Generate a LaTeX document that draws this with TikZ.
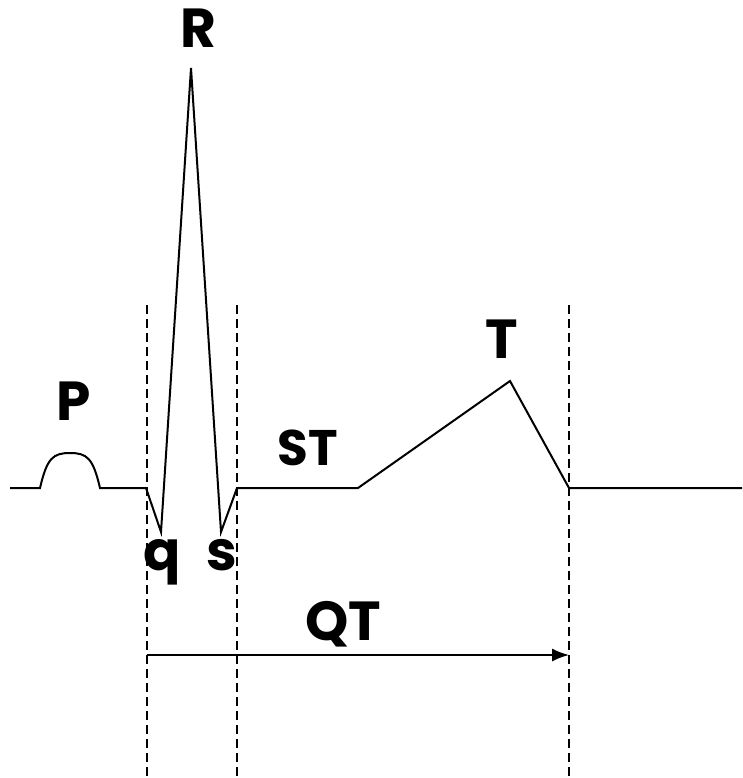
\documentclass[tikz,border=0pt]{standalone}
\usepackage{fontspec}
\setmainfont{Poppins}
\usetikzlibrary{arrows.meta}
\tikzset{
  trace/.style = {line width=2pt, line join=miter},
  guide/.style = {line width=1.6pt, dash pattern=on 9pt off 5pt},
  wave/.style  = {font=\fontsize{55}{55}\selectfont\bfseries, anchor=base, inner sep=0pt}
}
\begin{document}
\begin{tikzpicture}[x=1pt, y=-1pt]
  \useasboundingbox (0,0) rectangle (742,778);

  % Les points du trace
  \coordinate (debut) at (10,488);
  \coordinate (pg) at (40,488);
  \coordinate (pd) at (100,488);
  \coordinate (qrs) at (146,488);
  \coordinate (q) at (161,532);
  \coordinate (r) at (191,68);
  \coordinate (s) at (221,532);
  \coordinate (j) at (237,488);
  \coordinate (st) at (358,488);
  \coordinate (t) at (510,381);
  \coordinate (tfin) at (569,488);
  \coordinate (fin) at (742,488);

  % Le trace
  \draw[trace] (debut) -- (pg)
    .. controls (47,458) and (53,453) .. (70,453)
    .. controls (87,453) and (93,458) .. (pd)
    -- (qrs) -- (q) -- (r) -- (s) -- (j) -- (st) -- (t) -- (tfin) -- (fin);

  % Les pointilles
  \draw[guide] (147,305) -- (147,778);
  \draw[guide] (237,305) -- (237,778);
  \draw[guide] (569,305) -- (569,778);

  % La fleche QT
  \coordinate (qtg) at (147,655);
  \coordinate (qtd) at (569,655);
  \draw[line width=1.6pt, -{Latex[length=17pt, width=13pt]}] (qtg) -- (qtd);

  % Les lettres
  \node[wave] (lr) at (198,48) {R};
  \node[wave] (lp) at (74,420) {P};
  \node[wave] (lt) at (502,358) {T};
  \node[wave, font=\fontsize{50}{50}\selectfont\bfseries] (lst) at (308,465) {ST};
  \node[wave] (lq) at (162,570) {q};
  \node[wave] (ls) at (222,570) {s};
  \node[wave] (lqt) at (343,640) {QT};

\end{tikzpicture}
\end{document}
